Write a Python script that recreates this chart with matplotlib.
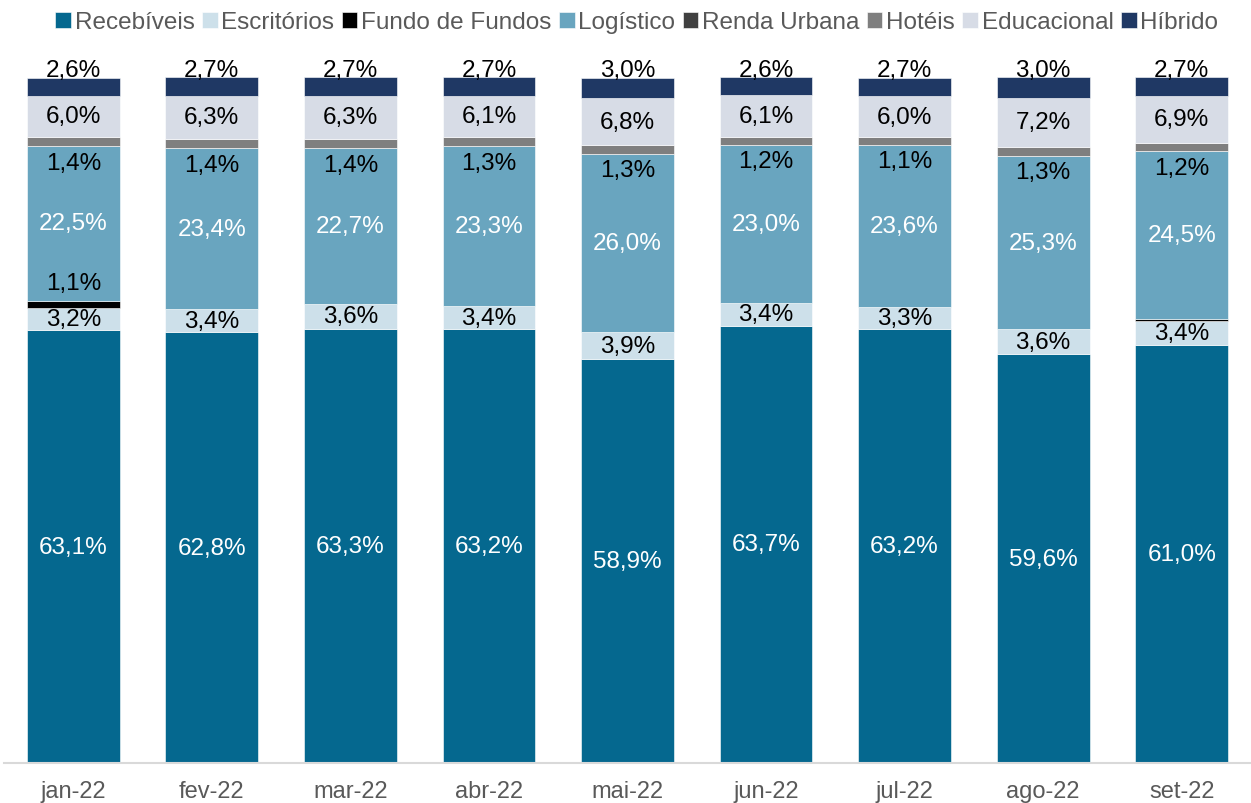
import matplotlib.pyplot as plt
import numpy as np

plt.rcParams['font.family'] = ['Liberation Sans', 'DejaVu Sans']

meses = ["jan-22", "fev-22", "mar-22", "abr-22", "mai-22", "jun-22", "jul-22", "ago-22", "set-22"]

recebiveis   = [63.1, 62.8, 63.3, 63.2, 58.9, 63.7, 63.2, 59.6, 61.0]
escritorios  = [3.2, 3.4, 3.6, 3.4, 3.9, 3.4, 3.3, 3.6, 3.4]
fundo_fundos = [1.1, 0.0, 0.0, 0.0, 0.0, 0.0, 0.0, 0.0, 0.3]
logistico    = [22.5, 23.4, 22.7, 23.3, 26.0, 23.0, 23.6, 25.3, 24.5]
renda_urbana = [0.0, 0.0, 0.0, 0.0, 0.0, 0.0, 0.0, 0.0, 0.0]
hoteis       = [1.4, 1.4, 1.4, 1.3, 1.3, 1.2, 1.1, 1.3, 1.2]
educacional  = [6.0, 6.3, 6.3, 6.1, 6.8, 6.1, 6.0, 7.2, 6.9]
hibrido      = [2.6, 2.7, 2.7, 2.7, 3.0, 2.6, 2.7, 3.0, 2.7]

series = [
    ("Recebíveis", recebiveis, "#05688f"),
    ("Escritórios", escritorios, "#cde0ea"),
    ("Fundo de Fundos", fundo_fundos, "#000000"),
    ("Logístico", logistico, "#69a5bf"),
    ("Renda Urbana", renda_urbana, "#404040"),
    ("Hotéis", hoteis, "#7f7f7f"),
    ("Educacional", educacional, "#d7dce6"),
    ("Híbrido", hibrido, "#1f3864"),
]

def fmt(v):
    return f"{v:.1f}".replace(".", ",") + "%"

fig = plt.figure(figsize=(12.51, 8.04), dpi=100)
ax = fig.add_axes([0.0032, 0.0498, 0.9968, 0.8532])

x = np.arange(len(meses))
base = np.zeros(len(meses))
fs = 17.5
for nome, vals, cor in series:
    vals = np.array(vals)
    ax.bar(x, vals, 0.67, bottom=base, color=cor, edgecolor="white", linewidth=0.4, label=nome)
    for i, v in enumerate(vals):
        if v < 0.5:
            continue
        if nome == "Recebíveis" or nome == "Logístico":
            ax.text(x[i], base[i] + v / 2, fmt(v), ha="center", va="center", color="white", fontsize=fs)
        elif nome == "Escritórios" or nome == "Educacional":
            ax.text(x[i], base[i] + v / 2, fmt(v), ha="center", va="center", color="black", fontsize=fs)
        elif nome == "Fundo de Fundos":
            ax.text(x[i], base[i] + v + 2.6, fmt(v), ha="center", va="center", color="black", fontsize=fs)
        elif nome == "Hotéis":
            ax.text(x[i], base[i] - 2.4, fmt(v), ha="center", va="center", color="black", fontsize=fs)
        elif nome == "Híbrido":
            ax.text(x[i], 101.0, fmt(v), ha="center", va="center", color="black", fontsize=fs, clip_on=False)
    base = base + vals

ax.set_xlim(-0.5, len(meses) - 0.5)
ax.set_ylim(0, 100)
ax.set_xticks(x)
ax.set_xticklabels(meses, fontsize=17, color="#595959")
ax.tick_params(axis="x", length=0, pad=12)
ax.set_yticks([])
for s in ["top", "left", "right"]:
    ax.spines[s].set_visible(False)
ax.spines["bottom"].set_color("#d9d9d9")
ax.spines["bottom"].set_linewidth(1.5)

leg = fig.legend(loc="center", bbox_to_anchor=(0.509, 0.971), ncol=8, frameon=False,
                 fontsize=17.5, handlelength=0.65, handleheight=0.65, handletextpad=0.15,
                 columnspacing=0.3, labelcolor="#595959")

fig.savefig("out.png", dpi=100)
